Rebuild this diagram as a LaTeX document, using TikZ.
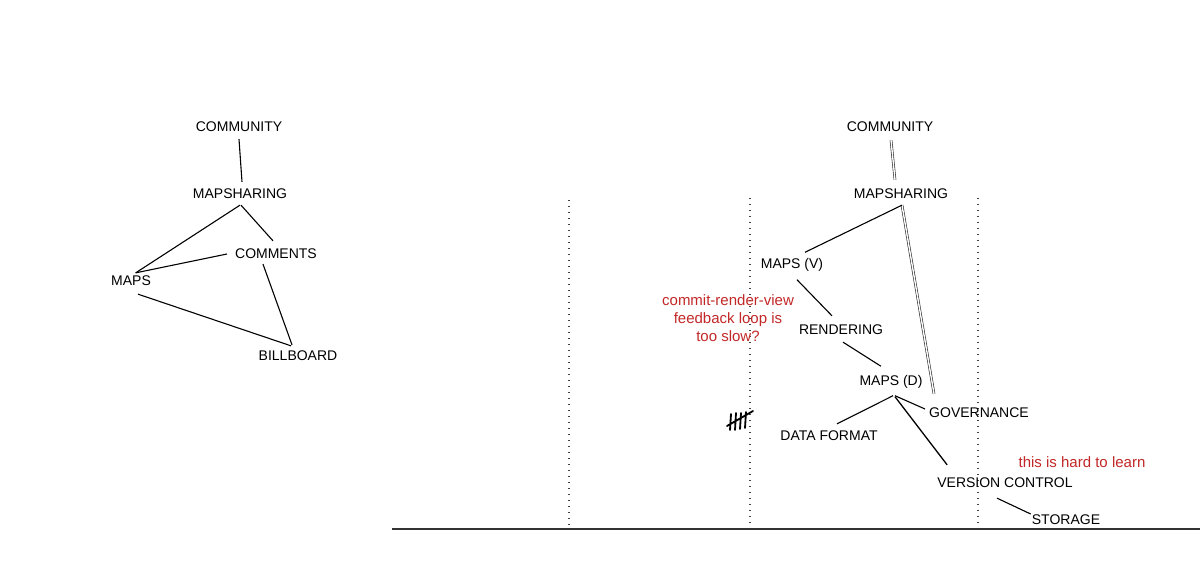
\documentclass[tikz,border=0pt]{standalone}
\usepackage{fontspec}
\setmainfont{Liberation Sans}
\usetikzlibrary{calc}
\definecolor{annot}{RGB}{195,40,40}

\begin{document}
\begin{tikzpicture}[x=1pt,y=-1pt,
    main/.style = {font=\fontsize{14}{16}\selectfont, inner sep=3pt},
    note/.style = {font=\fontsize{15}{18}\selectfont, text=annot, align=center, inner sep=0pt},
    edge/.style = {line width=1.1pt},
    twin/.style = {double, double distance=1.4pt, line width=0.6pt, draw=black!85},
    lane/.style = {line width=1.2pt, dash pattern=on 1.2pt off 4.8pt, draw=black!75}]
                        \fill[white] (0,0) rectangle (1200,570);
                        \useasboundingbox (0,0) rectangle (1200,570);

                        % left tree
                        \node[main](c1) at (239,127){COMMUNITY};
                        \node[main](ms1) at (240,194){MAPSHARING};
                        \node[main](cm1) at (276,254){COMMENTS};
                        \node[main](mp1) at (131,281){MAPS};
                        \node[main](bb1) at (298,356){BILLBOARD};

                        \draw[edge] ($(c1.south)+(0,4)$) -- ($(ms1.north)+(2,-4)$);
                        \draw[edge] ($(ms1.south)+(0,3)$) -- (mp1.60);
                        \draw[edge] ($(ms1.south)+(1,3)$) -- ($(cm1.north)+(-3,-5)$);
                        \draw[edge] (mp1.60) -- ($(cm1.west)+(-5,0)$);
                        \draw[edge] ($(mp1.south)+(7,5)$) -- ($(bb1.north)+(-7,-2)$);
                        \draw[edge] ($(cm1.south)+(-13,2)$) -- ($(bb1.north)+(-6,-3)$);

                        % lanes
                        \draw[lane] (569,200) -- (569,529);
                        \draw[lane] (750,198) -- (750,529);
                        \draw[lane] (978,198) -- (978,529);
                        \draw[line width=1.5pt, draw=black!80] (392,529) -- (1200,529);

                        % right tree
                        \node[main](c2) at (890,127){COMMUNITY};
                        \node[main](ms2) at (901,194){MAPSHARING};
                        \node[main](mv) at (792,265){MAPS (V)};
                        \node[main](rd) at (841,330){RENDERING};
                        \node[main](md) at (891,382){MAPS (D)};
                        \node[main](gv) at (979,413){GOVERNANCE};
                        \node[main](df) at (829,436){DATA FORMAT};
                        \node[main](vc) at (1005,483){VERSION CONTROL};
                        \node[main](st) at (1066,520){STORAGE};

                        \node[note](n1) at (728,318){commit-render-view\\feedback loop is\\too slow?};
                        \node[note](n2) at (1082,462){this is hard to learn};

                        \draw[twin] ($(c2.south)+(1,5)$) -- ($(ms2.north)+(-6,-6)$);
                        \draw[twin] ($(ms2.south)+(1,3)$) -- ($(gv.north west)+(8,-11)$);
                        \draw[edge] ($(ms2.south)+(1,3)$) -- ($(mv.north)+(13,-3)$);
                        \draw[edge] ($(mv.south)+(5,5)$) -- ($(rd.north)+(-9,-6)$);
                        \draw[edge] ($(rd.south)+(2,4)$) -- ($(md.north)+(-10,-6)$);
                        \draw[edge] ($(md.south)+(2,4)$) -- ($(df.north)+(8,-4)$);
                        \draw[edge] ($(md.south)+(4,4)$) -- ($(gv.west)+(-1,-4)$);
                        \draw[line width=1.3pt] ($(md.south)+(4,5)$) -- ($(vc.north west)+(13,-10)$);
                        \draw[edge] ($(vc.south)+(-8,7)$) -- ($(st.west)+(2,-6)$);

                        % tally
                        \draw[line width=1.8pt, line cap=round] (731,414) -- (730,430) (736,413) -- (735,430)
                                                (741,413) -- (740,429) (746,412) -- (745,428)
                                                (727,426) -- (753,411);
                    \end{tikzpicture}
\end{document}
